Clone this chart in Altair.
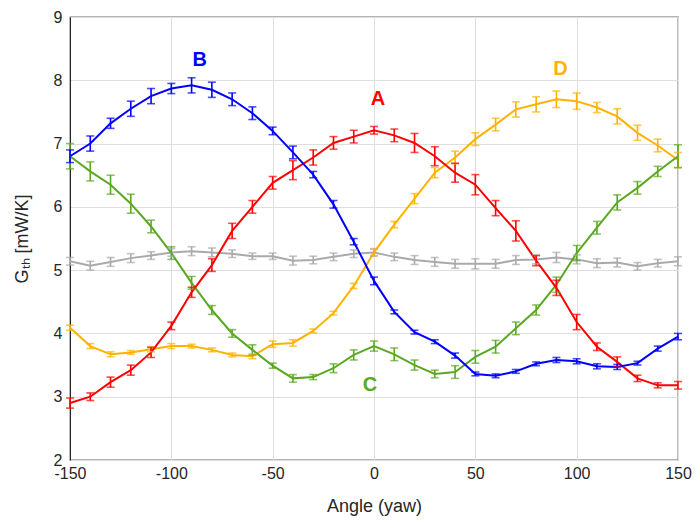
import altair as alt
import pandas as pd

angles = list(range(-150, 151, 10))

A_vals = [2.90, 3.00, 3.23, 3.42, 3.70, 4.12, 4.65, 5.08, 5.62, 6.00, 6.38, 6.58, 6.78, 7.01, 7.11, 7.21,
          7.13, 7.01, 6.80, 6.54, 6.35, 5.98, 5.62, 5.15, 4.72, 4.18, 3.79, 3.55, 3.29, 3.18, 3.18]
A_err = [0.08, 0.06, 0.08, 0.08, 0.08, 0.06, 0.08, 0.10, 0.12, 0.10, 0.10, 0.15, 0.12, 0.10, 0.10, 0.06,
         0.10, 0.15, 0.15, 0.15, 0.16, 0.12, 0.16, 0.08, 0.12, 0.12, 0.06, 0.08, 0.05, 0.04, 0.06]

B_vals = [6.80, 7.00, 7.32, 7.55, 7.75, 7.87, 7.92, 7.85, 7.70, 7.48, 7.20, 6.86, 6.51, 6.04, 5.45, 4.83,
          4.34, 4.02, 3.87, 3.65, 3.36, 3.33, 3.40, 3.52, 3.58, 3.56, 3.48, 3.47, 3.53, 3.76, 3.95]
B_err = [0.10, 0.12, 0.08, 0.12, 0.12, 0.08, 0.12, 0.12, 0.10, 0.10, 0.06, 0.10, 0.05, 0.06, 0.05, 0.06,
         0.03, 0.03, 0.03, 0.04, 0.03, 0.03, 0.03, 0.03, 0.04, 0.04, 0.04, 0.04, 0.03, 0.04, 0.05]

C_vals = [6.80, 6.56, 6.35, 6.05, 5.69, 5.27, 4.80, 4.37, 4.00, 3.74, 3.49, 3.29, 3.31, 3.45, 3.66, 3.80,
          3.67, 3.50, 3.36, 3.39, 3.63, 3.79, 4.08, 4.37, 4.77, 5.27, 5.67, 6.07, 6.30, 6.56, 6.80]
C_err = [0.20, 0.15, 0.15, 0.15, 0.10, 0.10, 0.10, 0.07, 0.06, 0.08, 0.04, 0.06, 0.04, 0.07, 0.08, 0.08,
         0.10, 0.08, 0.06, 0.10, 0.10, 0.10, 0.10, 0.08, 0.12, 0.12, 0.10, 0.12, 0.10, 0.08, 0.18]

D_vals = [4.09, 3.80, 3.67, 3.70, 3.75, 3.80, 3.80, 3.74, 3.66, 3.64, 3.83, 3.85, 4.04, 4.32, 4.75, 5.28,
          5.72, 6.13, 6.54, 6.78, 7.07, 7.30, 7.54, 7.62, 7.70, 7.67, 7.57, 7.43, 7.17, 6.97, 6.74]
D_err = [0.04, 0.04, 0.04, 0.03, 0.04, 0.04, 0.03, 0.03, 0.03, 0.04, 0.05, 0.05, 0.03, 0.03, 0.04, 0.05,
         0.05, 0.08, 0.08, 0.10, 0.10, 0.10, 0.12, 0.12, 0.13, 0.13, 0.08, 0.12, 0.12, 0.10, 0.12]

G_vals = [5.14, 5.07, 5.13, 5.19, 5.23, 5.28, 5.30, 5.28, 5.26, 5.22, 5.22, 5.15, 5.16, 5.21, 5.26, 5.28,
          5.21, 5.16, 5.13, 5.10, 5.10, 5.10, 5.16, 5.17, 5.20, 5.17, 5.11, 5.12, 5.06, 5.11, 5.14]
G_err = [0.06, 0.07, 0.07, 0.07, 0.06, 0.06, 0.07, 0.07, 0.06, 0.05, 0.05, 0.07, 0.06, 0.06, 0.06, 0.06,
         0.06, 0.07, 0.07, 0.07, 0.08, 0.07, 0.07, 0.07, 0.08, 0.07, 0.07, 0.07, 0.06, 0.06, 0.07]

series_names = ["G", "D", "C", "A", "B"]
series_colors = ["#AAAAAA", "#FFB300", "#5AA821", "#FF0000", "#0000FF"]
series_vals = {"A": A_vals, "B": B_vals, "C": C_vals, "D": D_vals, "G": G_vals}
series_errs = {"A": A_err, "B": B_err, "C": C_err, "D": D_err, "G": G_err}

label_text = ["A", "B", "C", "D"]
label_x = [2, -86, -2, 92]
label_y = [7.7, 8.32, 3.18, 8.18]
label_colors = ["#FF0000", "#0000FF", "#5AA821", "#FFB300"]

rows = []
for s in series_names:
    for i, a in enumerate(angles):
        v = series_vals[s][i]
        e = series_errs[s][i]
        rows.append({"series": s, "order": series_names.index(s), "angle": a, "value": v,
                     "lo": v - e, "hi": v + e})
df = pd.DataFrame(rows)

labels_df = pd.DataFrame({"label": label_text, "x": label_x, "y": label_y})

font = "Liberation Sans"

xscale = alt.Scale(domain=[-150, 150], nice=False)
yscale = alt.Scale(domain=[2, 9], nice=False)
cscale = alt.Scale(domain=series_names, range=series_colors)

xaxis = alt.Axis(values=[-150, -100, -50, 0, 50, 100, 150], title="Angle (yaw)", grid=True,
                 ticks=False, domain=False, labelPadding=5, titlePadding=16,
                 labelFlush=False, labelExpr="datum.value + ''")
yaxis = alt.Axis(values=[2, 3, 4, 5, 6, 7, 8, 9], title="Gₜₕ [mW/K]", grid=True,
                 ticks=False, domain=True, domainColor="#262626", domainWidth=1,
                 labelPadding=8, titlePadding=22, labelFlush=False, labelExpr="datum.value + ''")

base = alt.Chart(df)

lines = base.mark_line(strokeWidth=2).encode(
    x=alt.X("angle:Q", scale=xscale, axis=xaxis),
    y=alt.Y("value:Q", scale=yscale, axis=yaxis),
    color=alt.Color("series:N", scale=cscale, legend=None),
    detail="series:N",
    order="angle:Q",
)

bars = base.mark_rule(strokeWidth=1.6).encode(
    x=alt.X("angle:Q", scale=xscale),
    y=alt.Y("lo:Q", scale=yscale),
    y2="hi:Q",
    color=alt.Color("series:N", scale=cscale, legend=None),
)

cap_lo = base.mark_tick(orient="horizontal", size=8, thickness=1.6).encode(
    x=alt.X("angle:Q", scale=xscale),
    y=alt.Y("lo:Q", scale=yscale),
    color=alt.Color("series:N", scale=cscale, legend=None),
)
cap_hi = base.mark_tick(orient="horizontal", size=8, thickness=1.6).encode(
    x=alt.X("angle:Q", scale=xscale),
    y=alt.Y("hi:Q", scale=yscale),
    color=alt.Color("series:N", scale=cscale, legend=None),
)

texts = alt.Chart(labels_df).mark_text(fontSize=20, fontWeight="bold", font=font).encode(
    x=alt.X("x:Q", scale=xscale),
    y=alt.Y("y:Q", scale=yscale),
    text="label:N",
    color=alt.Color("label:N", scale=alt.Scale(domain=label_text, range=label_colors), legend=None),
)

chart = alt.layer(lines, bars, cap_lo, cap_hi, texts).resolve_scale(color="independent").properties(
    width=608, height=443,
    autosize=alt.AutoSizeParams(type="none"),
    padding={"left": 62, "top": 9, "right": 14, "bottom": 57},
).configure_view(
    stroke="#6a6a6a", strokeWidth=1.3
).configure_axis(
    labelFont=font, titleFont=font, labelFontSize=16, titleFontSize=18,
    labelColor="#262626", titleColor="#262626", titleFontWeight="normal",
    gridColor="#dedede", gridWidth=1,
)

chart.save("out.html", embed_options={"renderer": "svg", "actions": False})
